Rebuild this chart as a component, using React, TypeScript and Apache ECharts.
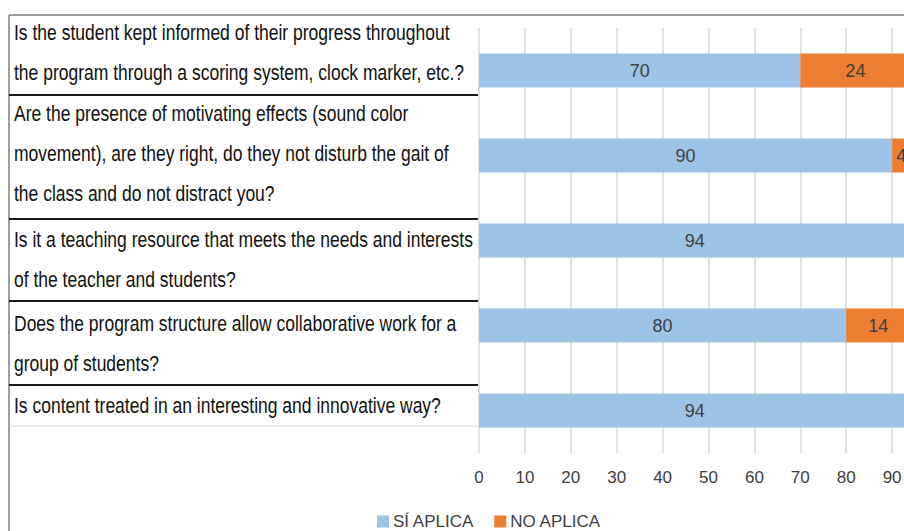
import React, { useEffect, useRef } from "react";
import * as echarts from "echarts";

const categories = [
  "Is the student kept informed of their progress throughout\nthe program through a scoring system, clock marker, etc.?",
  "Are the presence of motivating effects (sound color\nmovement), are they right, do they not disturb the gait of\nthe class and do not distract you?",
  "Is it a teaching resource that meets the needs and interests\nof the teacher and students?",
  "Does the program structure allow collaborative work for a\ngroup of students?",
  "Is content treated in an interesting and innovative way?",
];
const seriesNames = ["SÍ APLICA", "NO APLICA"];
const siAplica = [70, 90, 94, 80, 94];
const noAplica = [24, 4, 0, 14, 0];
const xMin = 0;
const xMax = 100;
const xInterval = 10;

// table layout (decoration)
const rowDividers = [95, 219, 301, 385];
const textTops = [12, 93, 219, 303, 385];

const FONT = '"Liberation Sans", Arial, sans-serif';
const TABLE_FONT_SIZE = 23;

function measure(text: string, size: number): number {
  const c = document.createElement("canvas").getContext("2d");
  if (!c) return text.length * size * 0.5;
  c.font = `${size}px "Liberation Sans", Arial, sans-serif`;
  return c.measureText(text).width;
}

export default function App() {
  const ref = useRef<HTMLDivElement>(null);
  useEffect(() => {
    if (!ref.current) return;
    const chart = echarts.init(ref.current, undefined, { renderer: "svg" });
    const l1 = categories[0].split("\n")[0];
    const l3 = categories[2].split("\n")[0];
    const sx = Math.min(447 / measure(l1, TABLE_FONT_SIZE), 459 / measure(l3, TABLE_FONT_SIZE));
    const graphic: any[] = [
      { type: "line", shape: { x1: 9, y1: 15, x2: 904, y2: 15 }, style: { stroke: "#7f7f7f", lineWidth: 1.5 } },
      { type: "line", shape: { x1: 9, y1: 15, x2: 9, y2: 531 }, style: { stroke: "#7f7f7f", lineWidth: 1.5 } },
      { type: "line", shape: { x1: 9, y1: 426, x2: 478, y2: 426 }, style: { stroke: "#d9d9d9", lineWidth: 1 } },
      ...rowDividers.map((y) => ({
        type: "line",
        shape: { x1: 9, y1: y, x2: 478, y2: y },
        style: { stroke: "#1a1a1a", lineWidth: 2 },
      })),
      ...categories.map((c, i) => ({
        type: "text",
        x: 14,
        y: textTops[i],
        scaleX: sx,
        style: {
          text: c,
          fontFamily: FONT,
          fontSize: TABLE_FONT_SIZE,
          lineHeight: 40,
          fill: "#111111",
          align: "left",
          verticalAlign: "top",
        },
      })),
    ];
    const labelOpt = {
      show: true,
      position: "inside",
      color: "#404040",
      fontSize: 18,
      fontFamily: FONT,
      formatter: (p: any) => (p.value ? String(p.value) : ""),
    };
    chart.setOption({
      animation: false,
      backgroundColor: "#ffffff",
      color: ["#9dc3e6", "#ed7d31"],
      grid: { left: 479, top: 28, width: 459, height: 425, containLabel: false },
      xAxis: {
        type: "value",
        min: xMin,
        max: xMax,
        interval: xInterval,
        axisLine: { show: false },
        axisTick: { show: false },
        splitLine: { show: true, lineStyle: { color: "#d9d9d9", width: 1.5 } },
        axisLabel: { color: "#404040", fontSize: 17, fontFamily: FONT, margin: 16 },
      },
      yAxis: {
        type: "category",
        inverse: true,
        data: categories,
        axisLine: { show: false },
        axisTick: { show: false },
        axisLabel: { show: false },
        splitLine: { show: false },
      },
      legend: {
        left: 377,
        top: 513,
        padding: 0,
        icon: "rect",
        itemWidth: 12,
        itemHeight: 12,
        itemGap: 20,
        textStyle: { color: "#404040", fontSize: 17, lineHeight: 17, fontFamily: FONT, padding: [0, 0, 0, -1] },
        data: seriesNames,
      },
      series: [
        { name: seriesNames[0], type: "bar", stack: "t", barWidth: 34, data: siAplica, label: labelOpt },
        { name: seriesNames[1], type: "bar", stack: "t", barWidth: 34, data: noAplica, label: labelOpt },
      ],
      graphic,
    });
    return () => chart.dispose();
  }, []);
  return (
    <div style={{ position: "absolute", left: 0, top: 0, width: 904, height: 531, overflow: "hidden", background: "#fff" }}>
      <div ref={ref} style={{ width: 960, height: 531 }} />
    </div>
  );
}
